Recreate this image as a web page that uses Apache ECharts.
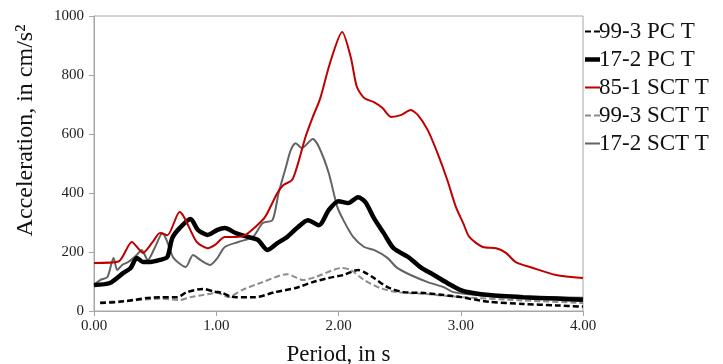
<!DOCTYPE html>
<html>
<head>
<meta charset="utf-8">
<script src="https://cdn.jsdelivr.net/npm/echarts@6/dist/echarts.min.js"></script>
<style>
html,body{margin:0;padding:0;background:#fff;}
#c{width:723px;height:364px;}
</style>
</head>
<body>
<div id="c"></div>
<script>
// Series names
var seriesNames = ['99-3 PC T', '17-2 PC T', '85-1 SCT T', '99-3 SCT T', '17-2 SCT T'];
var xTicks = ['0.00', '1.00', '2.00', '3.00', '4.00'];

// 99-3 PC T (black dashed)
var pc993_T = [0.05, 0.21, 0.32, 0.43, 0.54, 0.68, 0.76, 0.89, 0.98, 1.05, 1.11, 1.16, 1.32, 1.48, 1.65, 1.79, 1.92, 2.04, 2.16, 2.21, 2.29, 2.40, 2.53, 2.70, 2.86, 3.00, 3.23, 3.51, 3.78, 4.00];
var pc993_A = [27, 31, 37, 44, 47, 47, 64, 75, 66, 61, 50, 47, 47, 64, 78, 98, 112, 122, 139, 132, 112, 81, 64, 61, 54, 47, 31, 24, 19, 15];

// 17-2 PC T (black thick)
var pc172_T = [0.00, 0.13, 0.24, 0.30, 0.35, 0.40, 0.46, 0.54, 0.60, 0.64, 0.70, 0.79, 0.85, 0.93, 1.01, 1.07, 1.16, 1.26, 1.34, 1.42, 1.50, 1.58, 1.66, 1.75, 1.84, 1.92, 2.00, 2.08, 2.16, 2.22, 2.29, 2.37, 2.45, 2.57, 2.67, 2.78, 2.89, 3.00, 3.10, 3.23, 3.51, 3.78, 4.00];
var pc172_A = [88, 95, 129, 146, 180, 166, 166, 173, 183, 247, 281, 312, 275, 258, 275, 281, 264, 251, 241, 207, 230, 251, 281, 308, 291, 342, 372, 366, 386, 369, 315, 264, 213, 183, 149, 122, 95, 71, 61, 54, 47, 42, 38];

// 85-1 SCT T (red)
var sct851_T = [0.00, 0.20, 0.31, 0.40, 0.48, 0.54, 0.60, 0.70, 0.84, 0.93, 0.99, 1.07, 1.16, 1.24, 1.32, 1.40, 1.50, 1.55, 1.62, 1.67, 1.73, 1.79, 1.85, 1.93, 2.03, 2.10, 2.15, 2.21, 2.29, 2.36, 2.43, 2.51, 2.59, 2.65, 2.73, 2.81, 2.89, 2.96, 3.02, 3.07, 3.18, 3.29, 3.37, 3.45, 3.59, 3.78, 4.00];
var sct851_A = [163, 168, 234, 197, 234, 264, 257, 336, 234, 213, 224, 251, 251, 258, 285, 319, 400, 427, 444, 502, 590, 658, 720, 840, 946, 861, 760, 722, 708, 688, 658, 664, 681, 664, 613, 535, 444, 353, 298, 251, 217, 213, 197, 166, 146, 122, 112];

// 99-3 SCT T (grey dashed)
var sct993_T = [0.05, 0.30, 0.55, 0.70, 0.79, 0.89, 1.01, 1.10, 1.21, 1.38, 1.58, 1.71, 1.81, 2.03, 2.10, 2.21, 2.34, 2.48, 2.70, 3.00, 3.50, 4.00];
var sct993_A = [30, 35, 42, 37, 47, 54, 61, 47, 71, 98, 125, 105, 115, 146, 139, 105, 78, 64, 58, 47, 36, 27];

// 17-2 SCT T (grey solid)
var sct172_T = [0.00, 0.05, 0.11, 0.16, 0.19, 0.23, 0.28, 0.35, 0.39, 0.44, 0.50, 0.56, 0.60, 0.65, 0.75, 0.81, 0.87, 0.95, 1.01, 1.07, 1.18, 1.30, 1.38, 1.46, 1.51, 1.57, 1.61, 1.65, 1.70, 1.79, 1.84, 1.92, 1.99, 2.04, 2.12, 2.21, 2.29, 2.40, 2.48, 2.59, 2.73, 2.86, 2.94, 3.20, 3.50, 4.00];
var sct172_A = [88, 105, 115, 180, 139, 156, 166, 190, 207, 173, 217, 264, 234, 180, 149, 190, 173, 156, 180, 217, 234, 251, 298, 308, 400, 488, 546, 569, 552, 583, 556, 468, 353, 308, 251, 217, 207, 180, 146, 122, 98, 81, 64, 52, 48, 45];

function pairs(t, a) { return t.map(function (v, i) { return [v, a[i]]; }); }

var serif = '"Liberation Serif", "DejaVu Serif", serif';
var dashIcon = 'path://M0,0 H6 V2 H0 Z M9,0 H15 V2 H9 Z';
var thinIcon = 'path://M0,0 H15 V2 H0 Z';
var thickIcon = 'path://M0,0 H15 V4.5 H0 Z';
var chart = echarts.init(document.getElementById('c'));
chart.setOption({
  animation: false,
  backgroundColor: '#fff',
  grid: { left: 94, right: 140, top: 16, bottom: 53, show: true, borderColor: '#a6a6a6', borderWidth: 1,
    outerBoundsMode: 'none', containLabel: false },
  legend: {
    orient: 'vertical', left: 580, top: 15, itemGap: 5, itemWidth: 15, itemHeight: 10,
    textStyle: { fontFamily: serif, fontSize: 23, color: '#111', padding: [0, 0, 0, -6] },
    data: [
      { name: seriesNames[0], icon: dashIcon, itemStyle: { color: '#000' } },
      { name: seriesNames[1], icon: thickIcon, itemStyle: { color: '#000' } },
      { name: seriesNames[2], icon: thinIcon, itemStyle: { color: '#c00000' } },
      { name: seriesNames[3], icon: dashIcon, itemStyle: { color: '#8c8c8c' } },
      { name: seriesNames[4], icon: thinIcon, itemStyle: { color: '#636363' } }
    ]
  },
  xAxis: {
    type: 'value', min: 0, max: 4, interval: 1,
    name: 'Period, in s', nameLocation: 'middle', nameGap: 32,
    nameTextStyle: { fontFamily: serif, fontSize: 23, color: '#111' },
    axisLine: { show: true, lineStyle: { color: '#a6a6a6' } },
    axisTick: { show: true, length: 5, lineStyle: { color: '#a6a6a6' } },
    axisLabel: { fontFamily: serif, fontSize: 15, color: '#222', margin: 8,
      formatter: function (v) { return xTicks[Math.round(v)]; } },
    splitLine: { show: false }
  },
  yAxis: {
    type: 'value', min: 0, max: 1000, interval: 200,
    name: 'Acceleration, in cm/s²', nameLocation: 'middle', nameGap: 56,
    nameTextStyle: { fontFamily: serif, fontSize: 24, color: '#111', padding: [0, 0, 0, 66] },
    axisLine: { show: true, lineStyle: { color: '#a6a6a6' } },
    axisTick: { show: true, length: 5, lineStyle: { color: '#a6a6a6' } },
    axisLabel: { fontFamily: serif, fontSize: 15, color: '#222', margin: 10,
      formatter: function (v) { return String(v); } },
    splitLine: { show: false }
  },
  series: [
    { name: seriesNames[0], type: 'line', showSymbol: false, symbol: 'none', smooth: 0.25, z: 3,
      data: pairs(pc993_T, pc993_A), itemStyle: { color: '#000' },
      lineStyle: { color: '#000', width: 2.5, type: [6, 3] } },
    { name: seriesNames[1], type: 'line', showSymbol: false, symbol: 'none', smooth: 0.25, z: 4,
      data: pairs(pc172_T, pc172_A), itemStyle: { color: '#000' },
      lineStyle: { color: '#000', width: 4.5 } },
    { name: seriesNames[2], type: 'line', showSymbol: false, symbol: 'none', smooth: 0.25, z: 5,
      data: pairs(sct851_T, sct851_A), itemStyle: { color: '#c00000' },
      lineStyle: { color: '#c00000', width: 2 } },
    { name: seriesNames[3], type: 'line', showSymbol: false, symbol: 'none', smooth: 0.25, z: 2,
      data: pairs(sct993_T, sct993_A), itemStyle: { color: '#8c8c8c' },
      lineStyle: { color: '#8c8c8c', width: 2, type: [6, 3] } },
    { name: seriesNames[4], type: 'line', showSymbol: false, symbol: 'none', smooth: 0.25, z: 3,
      data: pairs(sct172_T, sct172_A), itemStyle: { color: '#636363' },
      lineStyle: { color: '#636363', width: 2 } }
  ]
});
</script>
</body>
</html>
